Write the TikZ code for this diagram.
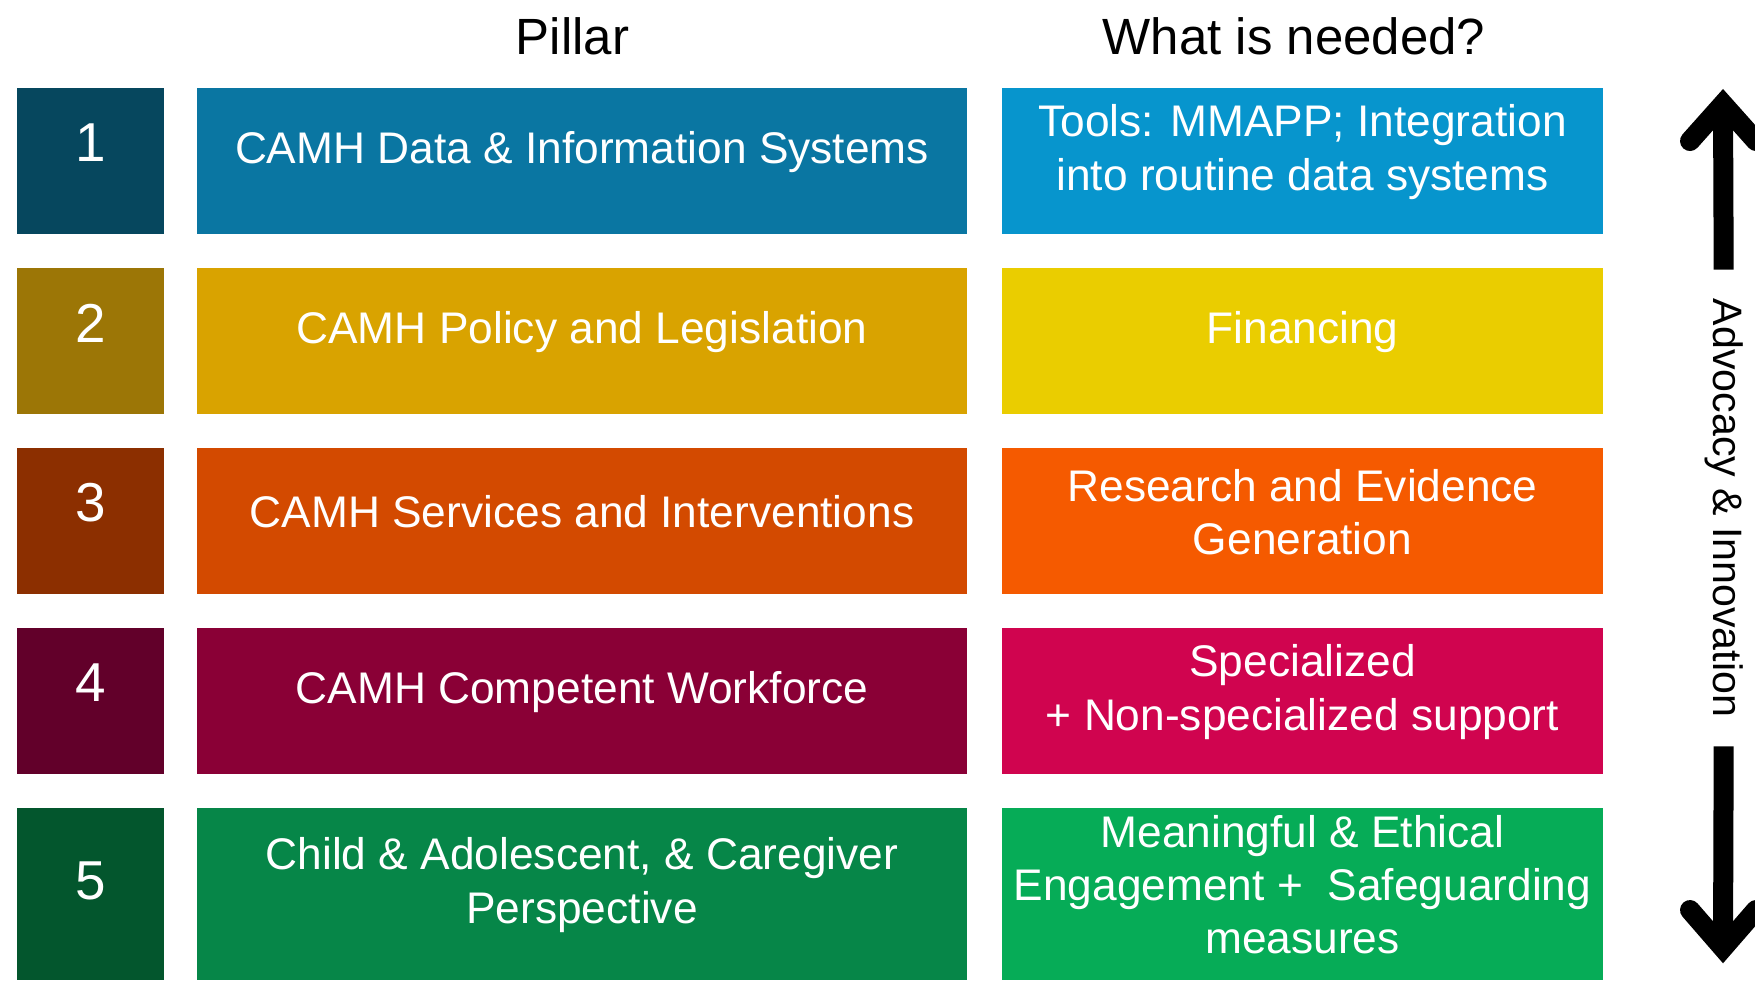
\documentclass[tikz,border=0pt]{standalone}
\usepackage{fontspec}
\setmainfont{Liberation Sans}

\definecolor{num1}{HTML}{06475E}
\definecolor{pil1}{HTML}{0A76A2}
\definecolor{need1}{HTML}{0795CD}
\definecolor{num2}{HTML}{9C7606}
\definecolor{pil2}{HTML}{D9A300}
\definecolor{need2}{HTML}{EACD00}
\definecolor{num3}{HTML}{8C2F00}
\definecolor{pil3}{HTML}{D34A00}
\definecolor{need3}{HTML}{F55A00}
\definecolor{num4}{HTML}{62002A}
\definecolor{pil4}{HTML}{8A0036}
\definecolor{need4}{HTML}{D0044F}
\definecolor{num5}{HTML}{03562D}
\definecolor{pil5}{HTML}{068648}
\definecolor{need5}{HTML}{06AC57}

\begin{document}
\begin{tikzpicture}[box/.style={rectangle,inner sep=0pt,minimum height=1.465cm},
  num node/.style={box,minimum width=1.47cm},
  pillar node/.style={box,minimum width=7.70cm},
  need node/.style={box,minimum width=6.01cm},
  num text/.style={text=white,font=\fontsize{15.6}{18.7}\selectfont,yshift=1.8mm},
  box text/.style={text=white,align=center,font=\fontsize{12.6}{15.1}\selectfont,yshift=0.9mm},
  head text/.style={font=\fontsize{14.5}{17.4}\selectfont},
  arrow shaft/.style={line width=2mm},
  arrow head/.style={line width=2mm,line cap=round,line join=miter}]

      \useasboundingbox (0,0) rectangle (17.55,-9.80);

      \node[head text] at (5.725,-0.36) (pillar) {Pillar};
      \node[head text] at (12.94,-0.36) (needed) {What is needed?};

      % row 1
      \node[num node,fill=num1] at (0.905,-1.61) (n1) {};
      \node[pillar node,fill=pil1] at (5.82,-1.61) (p1) {};
      \node[need node,fill=need1] at (13.025,-1.61) (w1) {};
      \node[num text] at (n1) (n1t) {1};
      \node[box text] at (p1) (p1t) {CAMH Data \& Information Systems};
      \node[box text] at (w1) (w1t) {Tools: MMAPP; Integration\\ into routine data systems};

      % row 2
      \node[num node,fill=num2] at (0.905,-3.41) (n2) {};
      \node[pillar node,fill=pil2] at (5.82,-3.41) (p2) {};
      \node[need node,fill=need2] at (13.025,-3.41) (w2) {};
      \node[num text] at (n2) (n2t) {2};
      \node[box text] at (p2) (p2t) {CAMH Policy and Legislation};
      \node[box text] at (w2) (w2t) {Financing};

      % row 3
      \node[num node,fill=num3] at (0.905,-5.21) (n3) {};
      \node[pillar node,fill=pil3] at (5.82,-5.21) (p3) {};
      \node[need node,fill=need3] at (13.025,-5.21) (w3) {};
      \node[num text] at (n3) (n3t) {3};
      \node[box text] at (p3) (p3t) {CAMH Services and Interventions};
      \node[box text] at (w3) (w3t) {Research and Evidence\\ Generation};

      % row 4
      \node[num node,fill=num4] at (0.905,-7.01) (n4) {};
      \node[pillar node,fill=pil4] at (5.82,-7.01) (p4) {};
      \node[need node,fill=need4] at (13.025,-7.01) (w4) {};
      \node[num text] at (n4) (n4t) {4};
      \node[box text] at (p4) (p4t) {CAMH Competent Workforce};
      \node[box text] at (w4) (w4t) {Specialized\\ + Non-specialized support};

      % row 5 runs off the bottom edge
      \node[num node,fill=num5,minimum height=1.72cm] at (0.905,-8.94) (n5) {};
      \node[pillar node,fill=pil5,minimum height=1.72cm] at (5.82,-8.94) (p5) {};
      \node[need node,fill=need5,minimum height=1.72cm] at (13.025,-8.94) (w5) {};
      \node[num text,yshift=-0.45mm] at (n5) (n5t) {5};
      \node[box text] at (p5) (p5t) {Child \& Adolescent, \& Caregiver\\ Perspective};
      \node[box text] at (w5) (w5t) {Meaningful \& Ethical\\ Engagement +\ \ Safeguarding\\ measures};

      % double arrow on the right
      \coordinate (up) at (17.23,-1.04);
      \coordinate (down) at (17.23,-9.48);
      \node[rotate=-90,inner xsep=2.85mm,inner ysep=0pt,font=\fontsize{11.7}{14}\selectfont] at (17.237,-5.08) (adv) {Advocacy \& Innovation};

      \draw[arrow shaft] (adv.west) -- (up);
      \draw[arrow shaft] (adv.east) -- (down);
      \draw[arrow head] ([xshift=-3.3mm,yshift=-3.7mm]up) -- (up) -- ([xshift=3.3mm,yshift=-3.7mm]up);
      \draw[arrow head] ([xshift=-3.3mm,yshift=3.8mm]down) -- (down) -- ([xshift=3.3mm,yshift=3.8mm]down);

    \end{tikzpicture}
\end{document}
